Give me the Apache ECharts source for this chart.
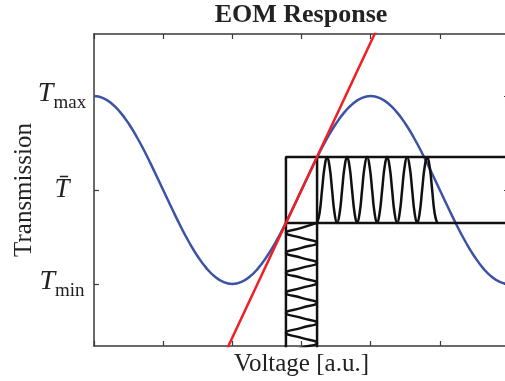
<!DOCTYPE html>
<html>
<head>
<meta charset="utf-8">
<script src="https://cdn.jsdelivr.net/npm/echarts@6/dist/echarts.min.js"></script>
<style>
html, body { margin: 0; padding: 0; background: #fff; }
#main { width: 505px; height: 381px; }
</style>
</head>
<body>
<div id="main"></div>
<script>
// transmission vs voltage (one point every eighth of a tick)
let curveX = [0, 0.125, 0.25, 0.375, 0.5, 0.625, 0.75, 0.875, 1, 1.125, 1.25, 1.375, 1.5, 1.625, 1.75, 1.875,
  2, 2.125, 2.25, 2.375, 2.5, 2.625, 2.75, 2.875, 3, 3.125, 3.25, 3.375, 3.5, 3.625, 3.75, 3.875,
  4, 4.125, 4.25, 4.375, 4.5, 4.625, 4.75, 4.875, 5, 5.125, 5.25, 5.375, 5.5, 5.625, 5.75, 5.875, 6];
let curveY = [1, 0.981, 0.924, 0.831, 0.707, 0.556, 0.383, 0.195, 0, -0.195, -0.383, -0.556, -0.707, -0.831, -0.924, -0.981,
  -1, -0.981, -0.924, -0.831, -0.707, -0.556, -0.383, -0.195, 0, 0.195, 0.383, 0.556, 0.707, 0.831, 0.924, 0.981,
  1, 0.981, 0.924, 0.831, 0.707, 0.556, 0.383, 0.195, 0, -0.195, -0.383, -0.556, -0.707, -0.831, -0.924, -0.981, -1];

// tangent at the operating point
let tangentX = [1.9, 4.1];
let tangentY = [-1.728, 1.728];

// modulation window
let boxLeft = 2.775;
let boxRight = 3.225;
let boxTop = 0.35;
let boxBottom = -0.35;

// output signal (transmission oscillating, drawn to the right)
let outX = [3.225, 3.261, 3.297, 3.334, 3.370, 3.406, 3.442, 3.478, 3.514, 3.551, 3.587, 3.623,
  3.659, 3.695, 3.731, 3.768, 3.804, 3.840, 3.876, 3.912, 3.949, 3.985, 4.021, 4.057,
  4.093, 4.129, 4.166, 4.202, 4.238, 4.274, 4.310, 4.346, 4.383, 4.419, 4.455, 4.491,
  4.527, 4.564, 4.600, 4.636, 4.672, 4.708, 4.744, 4.781, 4.817, 4.853, 4.889, 4.925, 4.961];
let outY = [-0.35, -0.247, 0, 0.247, 0.35, 0.247, 0, -0.247,
  -0.35, -0.247, 0, 0.247, 0.35, 0.247, 0, -0.247,
  -0.35, -0.247, 0, 0.247, 0.35, 0.247, 0, -0.247,
  -0.35, -0.247, 0, 0.247, 0.35, 0.247, 0, -0.247,
  -0.35, -0.247, 0, 0.247, 0.35, 0.247, 0, -0.247,
  -0.35, -0.247, 0, 0.247, 0.35, 0.247, 0, -0.247, -0.35];

// input signal (voltage oscillating, drawn downwards)
let inX = [3.225, 3, 2.775, 3, 3.225, 3, 2.775, 3, 3.225, 3, 2.775, 3, 3.225,
  3, 2.775, 3, 3.225, 3, 2.775, 3, 3.225, 3, 2.775, 3, 3.225, 3, 2.775];
let inY = [-0.350, -0.403, -0.456, -0.510, -0.563, -0.616, -0.669, -0.722, -0.776, -0.829,
  -0.882, -0.935, -0.988, -1.042, -1.095, -1.148, -1.201, -1.254, -1.308, -1.361,
  -1.414, -1.467, -1.520, -1.574, -1.627, -1.680, -1.733];

let xTicks = [0, 1, 2, 3, 4, 5, 6];
let yTickValues = [-1, 0, 1];
let yTickLabels = ['{t|T}{s|min}', '{b|T\u0304}', '{t|T}{s|max}'];

let serif = '"Liberation Serif", "Times New Roman", serif';

function pairs(xs, ys) {
  return xs.map((x, i) => [x, ys[i]]);
}

var myChart = echarts.init(document.getElementById('main'));

let frameLine = { show: true, onZero: false, lineStyle: { color: '#3a3a3a', width: 1.5 } };
let frameTick = { show: true, inside: true, length: 5, lineStyle: { color: '#3a3a3a', width: 1.2 } };

var option = {
  animation: false,
  backgroundColor: '#fff',
  title: {
    text: 'EOM Response',
    left: 301,
    top: 2,
    padding: 0,
    textAlign: 'center',
    textStyle: { fontFamily: serif, fontWeight: 'bold', fontSize: 26, color: '#222' }
  },
  grid: { left: 94, right: -4, top: 34, bottom: 35, outerBoundsMode: 'none' },
  xAxis: [{
    type: 'value', position: 'bottom', min: 0, max: 6,
    axisLine: frameLine,
    axisTick: Object.assign({ customValues: xTicks }, frameTick),
    axisLabel: { show: false },
    splitLine: { show: false },
    name: 'Voltage [a.u.]',
    nameLocation: 'middle',
    nameGap: 6,
    nameMoveOverlap: false,
    nameTextStyle: { fontFamily: serif, fontSize: 25, color: '#222' }
  }, {
    type: 'value', position: 'top', min: 0, max: 6,
    axisLine: frameLine,
    axisTick: Object.assign({ customValues: xTicks }, frameTick),
    axisLabel: { show: false },
    splitLine: { show: false }
  }],
  yAxis: [{
    type: 'value', position: 'left', min: -1.66, max: 1.66,
    axisLine: frameLine,
    axisTick: Object.assign({ customValues: yTickValues }, frameTick),
    axisLabel: {
      customValues: yTickValues,
      margin: 32,
      align: 'center',
      formatter: function (v) { return yTickLabels[yTickValues.indexOf(v)]; },
      rich: {
        t: { fontFamily: serif, fontStyle: 'italic', fontSize: 28, color: '#222', verticalAlign: 'top' },
        s: { fontFamily: serif, fontSize: 19, color: '#222', padding: [14, 0, 0, 0] },
        b: { fontFamily: serif, fontStyle: 'italic', fontSize: 27, color: '#222' }
      }
    },
    splitLine: { show: false },
    name: 'Transmission',
    nameLocation: 'middle',
    nameGap: 57,
    nameMoveOverlap: false,
    nameTextStyle: { fontFamily: serif, fontSize: 25, color: '#222' }
  }, {
    type: 'value', position: 'right', min: -1.66, max: 1.66,
    axisLine: frameLine,
    axisTick: Object.assign({ customValues: yTickValues }, frameTick),
    axisLabel: { show: false },
    splitLine: { show: false }
  }],
  series: [
    {
      type: 'line', data: pairs(curveX, curveY), smooth: true, symbol: 'none',
      lineStyle: { color: '#3b53a4', width: 2.5 }
    },
    {
      type: 'line', data: [[boxLeft, -1.8], [boxLeft, boxTop], [6, boxTop]], symbol: 'none',
      lineStyle: { color: '#111', width: 2.5 }
    },
    {
      type: 'line', data: [[boxRight, boxTop], [boxRight, -1.8]], symbol: 'none',
      lineStyle: { color: '#111', width: 2.5 }
    },
    {
      type: 'line', data: [[boxLeft, boxBottom], [6, boxBottom]], symbol: 'none',
      lineStyle: { color: '#111', width: 2.5 }
    },
    {
      type: 'line', data: pairs(outX, outY), smooth: true, symbol: 'none',
      lineStyle: { color: '#111', width: 2.5 }
    },
    {
      type: 'line', data: pairs(inX, inY), smooth: true, symbol: 'none',
      lineStyle: { color: '#111', width: 2.5 }
    },
    {
      type: 'line', data: pairs(tangentX, tangentY), symbol: 'none',
      lineStyle: { color: '#ee2026', width: 2.5 }
    }
  ]
};

myChart.setOption(option);
</script>
</body>
</html>
